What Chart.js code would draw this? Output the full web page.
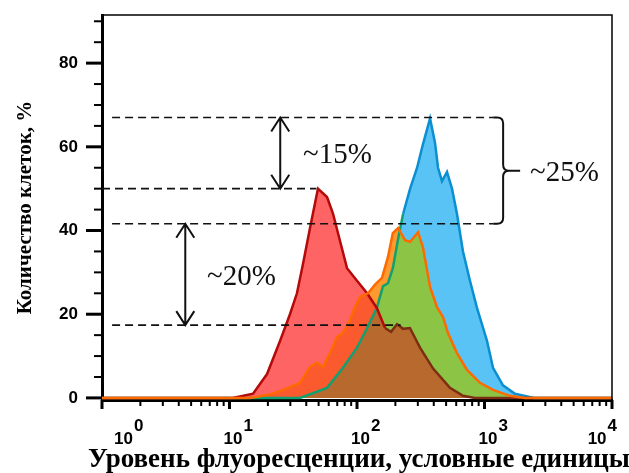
<!DOCTYPE html>
<html>
<head>
<meta charset="utf-8">
<script src="https://cdn.jsdelivr.net/npm/chart.js@4.4.0/dist/chart.umd.min.js"></script>
<style>
  html, body { margin: 0; padding: 0; background: #fff; }
</style>
</head>
<body>
<canvas id="histChart" width="629" height="473"></canvas>
<script>
// fluorescence level (log x) and % of cells for each sample
const redX = [1, 10.6, 15.3, 19.7, 24.9, 29.8, 33.8, 37.7, 42.8, 49.4, 58.2, 64.9, 73.6, 83.5, 100, 120, 143, 166, 185, 206, 230, 260, 312, 395, 536, 678, 842, 10000];
const redY = [0, 0, 1, 5.7, 13.6, 20, 25, 32, 40.6, 50, 48, 44, 37.5, 31, 28, 25, 21.5, 16.7, 15.8, 17.6, 16.5, 16.7, 12, 7, 2.4, 0.5, 0, 0];

const orangeX = [1, 14.5, 20.8, 26.3, 35.7, 42.8, 48.5, 54.1, 61.4, 69.7, 77.6, 88.1, 96.4, 105.6, 122, 138, 157, 175, 191, 210, 238, 261, 301, 329, 374, 424, 473, 517, 608, 729, 922, 1166, 1585, 2080, 10000];
const orangeY = [0, 0, 0.8, 1.9, 3.6, 7.4, 8.4, 7.4, 10.7, 14.6, 15.5, 18.6, 21.7, 24.1, 25, 27, 28.7, 33.7, 39.4, 40.6, 37.7, 37.3, 39.6, 36, 26.5, 21.7, 19.3, 15.5, 10.7, 6.7, 3.6, 1.9, 0.5, 0, 0];

const blueX = [1, 35.7, 58.2, 77.6, 100, 120, 143, 160, 175, 191, 210, 230, 261, 296, 329, 374, 409, 432, 464, 508, 556, 608, 678, 769, 873, 1047, 1166, 1396, 1734, 2445, 10000];
const blueY = [0, 0, 2.4, 7.2, 12, 16.7, 21.5, 26.7, 27.4, 31, 38, 44, 50, 55, 60.6, 66.8, 61, 55, 51.8, 54, 50, 44, 35, 28, 21.5, 13.6, 7.2, 3, 1, 0, 0];

// y ticks with labels, x decades
const yLabels = [0, 20, 40, 60, 80];
const decades = [1, 10, 100, 1000, 10000];
const exponents = ['0', '1', '2', '3', '4'];
const xTitle = 'Уровень флуоресценции, условные единицы';

// reference levels for the dashed lines (% of cells)
const levels = [67, 50, 41.6, 17.4];
const levelSpans = [[1.2, 1170], [1, 48], [1.2, 1170], [1.2, 220]];
const notes = ['~15%', '~20%', '~25%'];

const C = {
  red: '#ff6464', orangeRed: '#fa5a2d', brown: '#b8692d',
  green: '#8cc446', blue: '#5ac3f5', orange: '#ff9a30',
  redLine: '#b40a0a', brownLine: '#7c2e12', orangeLine: '#ff6a00',
  blueLine: '#0a8fd0', tealLine: '#12a070'
};

const pts = (xs, ys) => xs.map((v, i) => ({ x: v, y: ys[i] }));

function fillSet(xs, ys, fill, color, order) {
  return { data: pts(xs, ys), fill: fill, backgroundColor: color || 'transparent',
           borderWidth: 0, pointRadius: 0, tension: 0, order: order };
}

function lineSet(xs, ys, color, order, segColor) {
  return { data: pts(xs, ys), fill: false, borderColor: color, borderWidth: 2.5,
           pointRadius: 0, tension: 0, order: order,
           segment: segColor ? { borderColor: segColor } : undefined };
}

function arrow(ctx, px, y1, y2) {
  ctx.beginPath();
  ctx.moveTo(px, y1); ctx.lineTo(px, y2);
  ctx.moveTo(px - 9, y1 + 14); ctx.lineTo(px, y1); ctx.lineTo(px + 9, y1 + 14);
  ctx.moveTo(px - 9, y2 - 14); ctx.lineTo(px, y2); ctx.lineTo(px + 9, y2 - 14);
  ctx.stroke();
}

const annotate = {
  id: 'annotate',
  afterDatasetsDraw(chart) {
    const { ctx, scales: { x, y } } = chart;
    ctx.save();
    ctx.strokeStyle = '#111';
    ctx.lineWidth = 1.6;
    ctx.setLineDash([8, 5]);
    levels.forEach((v, i) => {
      const py = y.getPixelForValue(v);
      ctx.beginPath();
      ctx.moveTo(x.getPixelForValue(levelSpans[i][0]), py);
      ctx.lineTo(x.getPixelForValue(levelSpans[i][1]), py);
      ctx.stroke();
    });
    ctx.setLineDash([]);
    ctx.lineWidth = 2;
    arrow(ctx, x.getPixelForValue(25), y.getPixelForValue(levels[0]), y.getPixelForValue(levels[1]));
    arrow(ctx, x.getPixelForValue(4.5), y.getPixelForValue(levels[2]), y.getPixelForValue(levels[3]));

    // curly bracket for the ~25% gap
    const x0 = x.getPixelForValue(1170), bx = x.getPixelForValue(1400);
    const t = y.getPixelForValue(levels[0]), b = y.getPixelForValue(levels[2]), m = (t + b) / 2;
    ctx.beginPath();
    ctx.moveTo(x0, t); ctx.lineTo(bx - 6, t); ctx.quadraticCurveTo(bx, t, bx, t + 6);
    ctx.lineTo(bx, m - 6); ctx.quadraticCurveTo(bx, m, bx + 6, m); ctx.lineTo(bx + 17, m);
    ctx.moveTo(bx + 6, m); ctx.quadraticCurveTo(bx, m, bx, m + 6);
    ctx.lineTo(bx, b - 6); ctx.quadraticCurveTo(bx, b, bx - 6, b); ctx.lineTo(x0, b);
    ctx.stroke();

    ctx.fillStyle = '#111';
    ctx.font = '29px "Liberation Serif"';
    ctx.textBaseline = 'middle';
    ctx.textAlign = 'left';
    ctx.fillText(notes[0], x.getPixelForValue(37.7), y.getPixelForValue(58));
    ctx.fillText(notes[1], x.getPixelForValue(6.66), y.getPixelForValue(28.9));
    ctx.fillText(notes[2], x.getPixelForValue(2275), y.getPixelForValue(53.7));
    ctx.restore();
  }
};

const frame = {
  id: 'frame',
  afterDraw(chart) {
    const { ctx, chartArea: a, scales: { x, y } } = chart;
    ctx.save();
    ctx.strokeStyle = '#000';
    ctx.lineWidth = 1.5;
    ctx.beginPath();
    ctx.moveTo(a.left, a.top); ctx.lineTo(a.right, a.top); ctx.lineTo(a.right, a.bottom);
    ctx.stroke();

    // y ticks every 5
    for (let v = 0; v <= 90; v += 5) {
      const major = v % 20 === 0;
      const py = y.getPixelForValue(v);
      ctx.lineWidth = major ? 3 : 2;
      ctx.beginPath();
      ctx.moveTo(a.left - (major ? 16 : 8), py); ctx.lineTo(a.left, py);
      ctx.stroke();
    }
    // x ticks, decades and 2..9
    decades.forEach((d, i) => {
      for (let k = 1; k <= 9; k++) {
        if (i === decades.length - 1 && k > 1) break;
        const px = x.getPixelForValue(d * k);
        const major = k === 1;
        ctx.lineWidth = major ? 3 : 2;
        ctx.beginPath();
        ctx.moveTo(px, a.bottom); ctx.lineTo(px, a.bottom + (major ? 9 : 6));
        ctx.stroke();
      }
    });

    // x labels: 10 with exponent
    ctx.fillStyle = '#000';
    ctx.textBaseline = 'alphabetic';
    ctx.textAlign = 'left';
    ctx.font = 'bold 17px "Liberation Sans"';
    decades.forEach((d, i) => {
      const px = x.getPixelForValue(d);
      const wb = ctx.measureText('10').width;
      const we = ctx.measureText(exponents[i]).width;
      const w = wb + 1 + we;
      let gx = px - 6;
      gx = Math.max(gx, a.left + 12);
      gx = Math.min(gx, a.right + 5 - w);
      ctx.fillText('10', gx, 444);
      ctx.fillText(exponents[i], gx + wb + 1, 431);
    });

    // x axis title, wider than the plot area
    ctx.font = 'bold 27px "Liberation Serif"';
    ctx.textAlign = 'center';
    ctx.textBaseline = 'middle';
    ctx.fillText(xTitle, (a.left + a.right) / 2 + 2, 460);
    ctx.restore();
  }
};

new Chart(document.getElementById('histChart'), {
  type: 'line',
  data: {
    datasets: [
      fillSet(blueX, blueY, 'origin', C.green, 10),
      fillSet(orangeX, orangeY, { target: 0, above: C.orange, below: C.blue }, null, 9),
      fillSet(redX, redY, 'origin', C.brown, 8),
      fillSet(blueX, blueY, { target: 2, above: 'transparent', below: C.orangeRed }, null, 7),
      fillSet(orangeX, orangeY, { target: 2, above: 'transparent', below: C.red }, null, 6),
      lineSet(blueX, blueY, C.blueLine, 3, c => c.p0.parsed.x < 215 ? C.tealLine : C.blueLine),
      lineSet(redX, redY, C.redLine, 2, c => c.p0.parsed.x >= 166 ? C.brownLine : C.redLine),
      lineSet(orangeX, orangeY, C.orangeLine, 1)
    ]
  },
  options: {
    responsive: false,
    animation: false,
    layout: { autoPadding: false, padding: { top: 15, right: 17, left: 0, bottom: 0 } },
    plugins: { legend: { display: false }, tooltip: { enabled: false } },
    scales: {
      x: {
        type: 'logarithmic',
        min: 1,
        max: 10000,
        grid: { display: false },
        border: { display: true, width: 3, color: '#000' },
        ticks: { display: false },
        afterFit: s => { s.height = 73; s.paddingLeft = 0; s.paddingRight = 0; },
        title: { display: false }
      },
      y: {
        min: -0.5,
        max: 91.5,
        grid: { display: false, drawTicks: false },
        border: { display: true, width: 3, color: '#000' },
        afterBuildTicks: s => { s.ticks = yLabels.map(v => ({ value: v })); },
        ticks: {
          color: '#000',
          padding: 24,
          font: { family: '"Liberation Sans"', size: 17, weight: 'bold' }
        },
        afterFit: s => { s.width = 102; s.paddingTop = 0; s.paddingBottom = 0; },
        title: {
          display: true,
          text: 'Количество клеток, %',
          color: '#000',
          font: { family: '"Liberation Serif"', size: 21, weight: 'bold' },
          padding: { top: 13, bottom: 0 }
        }
      }
    }
  },
  plugins: [annotate, frame]
});
</script>
</body>
</html>
